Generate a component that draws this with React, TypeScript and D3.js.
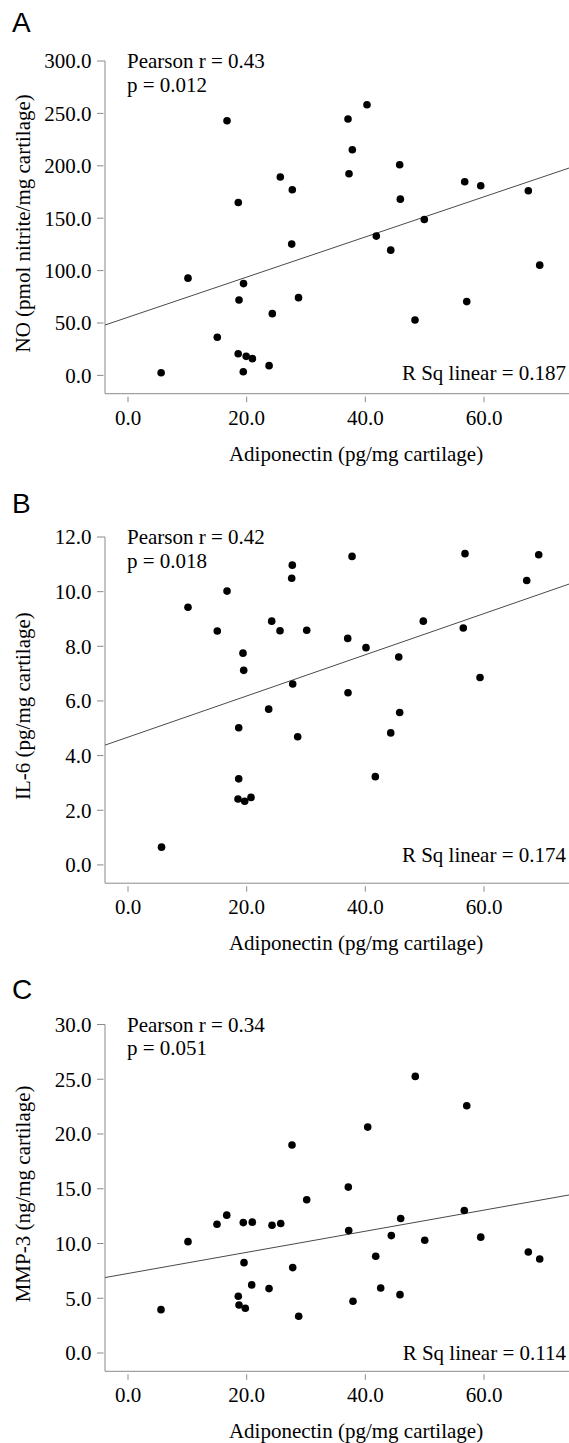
import React from "react";
import * as d3 from "d3";

// Adiponectin (pg/mg cartilage) per sample, one array per assay
const adipoA = [5.58, 10.11, 15.05, 16.69, 18.57, 18.71, 19.47, 19.43, 19.92, 20.97, 18.59, 23.78, 24.32, 25.67, 27.69, 27.59, 28.74, 37.08, 37.25, 37.81, 40.28, 41.85, 44.28, 45.79, 45.9, 48.37, 49.94, 56.75, 57.09, 59.45, 67.47, 69.39];
const noValues = [2.6, 92.8, 36.4, 243.0, 20.7, 72.0, 87.6, 3.5, 18.2, 16.0, 165.0, 9.3, 58.9, 189.3, 177.1, 125.3, 74.2, 244.7, 192.4, 215.3, 258.3, 132.9, 119.5, 201.0, 168.2, 52.9, 148.8, 184.8, 70.4, 181.0, 176.2, 105.2];

const adipoB = [5.65, 10.11, 15.05, 16.69, 18.66, 18.66, 18.54, 19.38, 19.5, 19.67, 20.73, 23.71, 24.22, 25.62, 27.59, 27.69, 27.76, 28.6, 30.12, 37.03, 37.08, 37.76, 40.11, 41.68, 44.28, 45.63, 45.79, 49.77, 56.51, 56.8, 59.33, 67.2, 69.22];
const il6Values = [0.65, 9.43, 8.56, 10.02, 5.02, 3.15, 2.41, 7.75, 7.12, 2.33, 2.47, 5.7, 8.92, 8.57, 10.49, 10.97, 6.62, 4.69, 8.59, 8.29, 6.3, 11.29, 7.95, 3.23, 4.83, 7.61, 5.58, 8.92, 8.67, 11.39, 6.86, 10.41, 11.35];

const adipoC = [5.56, 10.11, 15.0, 16.64, 18.59, 18.71, 19.43, 19.55, 19.77, 20.85, 20.95, 23.77, 24.27, 25.74, 27.64, 27.76, 28.77, 30.12, 37.13, 37.2, 37.92, 40.4, 41.75, 42.59, 44.38, 45.84, 45.96, 48.42, 50.01, 56.68, 57.09, 59.45, 67.47, 69.39];
const mmp3Values = [3.96, 10.17, 11.76, 12.59, 5.18, 4.39, 11.91, 8.25, 4.09, 6.22, 11.95, 5.88, 11.67, 11.82, 18.99, 7.8, 3.35, 13.99, 15.15, 11.18, 4.73, 20.63, 8.84, 5.94, 10.72, 5.33, 12.28, 25.26, 10.3, 13.01, 22.58, 10.58, 9.23, 8.59];

const xTicks = [0, 20, 40, 60];
const noTicks = [0, 50, 100, 150, 200, 250, 300];
const il6Ticks = [0, 2, 4, 6, 8, 10, 12];
const mmp3Ticks = [0, 5, 10, 15, 20, 25, 30];

const panelLetters = ["A", "B", "C"];
const yTitles = ["NO (pmol nitrite/mg cartilage)", "IL-6 (pg/mg cartilage)", "MMP-3 (ng/mg cartilage)"];
const xTitle = "Adiponectin (pg/mg cartilage)";
const pearsonR = ["0.43", "0.42", "0.34"];
const pValues = ["0.012", "0.018", "0.051"];
const rSquared = ["0.187", "0.174", "0.114"];

const W = 569;
const H = 1443;
const SERIF = "'Liberation Serif', 'Times New Roman', serif";
const SANS = "'Liberation Sans', Arial, sans-serif";
const AXIS = "#8a8a8a";

// vertical placement of each panel: pixel of top tick, of zero, of letter and R² baselines
const layout = [
  { top: 61, zero: 375.4, letterY: 32, rsqY: 380 },
  { top: 537, zero: 864.9, letterY: 513, rsqY: 862 },
  { top: 1024.5, zero: 1353, letterY: 999, rsqY: 1360 },
];

const panels = [
  { xs: adipoA, ys: noValues, ticks: noTicks },
  { xs: adipoB, ys: il6Values, ticks: il6Ticks },
  { xs: adipoC, ys: mmp3Values, ticks: mmp3Ticks },
];

function linearFit(xs: number[], ys: number[]) {
  const mx = d3.mean(xs)!;
  const my = d3.mean(ys)!;
  let sxy = 0;
  let sxx = 0;
  xs.forEach((x, i) => {
    sxy += (x - mx) * (ys[i] - my);
    sxx += (x - mx) * (x - mx);
  });
  const slope = sxy / sxx;
  return { slope, intercept: my - slope * mx };
}

const AXIS_X = 105;
const xScale = d3.scaleLinear().domain([0, 60]).range([128, 484]);

function Panel({ idx }: { idx: number }) {
  const p = panels[idx];
  const L = layout[idx];
  const yMax = p.ticks[p.ticks.length - 1];
  const y = d3.scaleLinear().domain([0, yMax]).range([L.zero, L.top]);
  const axisY = L.zero + 18.3;
  const fit = linearFit(p.xs, p.ys);
  const x0 = xScale.invert(AXIS_X);
  const x1 = xScale.invert(W);
  const line = d3.line<number>()
    .x((d) => xScale(d))
    .y((d) => y(fit.intercept + fit.slope * d));
  const titleCenter = (L.top + axisY) / 2 - 4;
  const fmt = d3.format(".1f");

  return (
    <g>
      <text x={12} y={L.letterY} fontFamily={SANS} fontSize={28} fill="#000">
        {panelLetters[idx]}
      </text>

      {/* axes */}
      <line x1={AXIS_X} x2={AXIS_X} y1={L.top} y2={axisY} stroke={AXIS} strokeWidth={1} />
      <line x1={AXIS_X} x2={W} y1={axisY} y2={axisY} stroke={AXIS} strokeWidth={1} />

      {p.ticks.map((t) => (
        <g key={"y" + t}>
          <line x1={97} x2={t === yMax ? AXIS_X : 103.5} y1={y(t)} y2={y(t)} stroke={AXIS} strokeWidth={1} />
          <text x={91.5} y={y(t)} dy="0.35em" textAnchor="end" fontFamily={SERIF} fontSize={21} fill="#000">
            {fmt(t)}
          </text>
        </g>
      ))}

      {xTicks.map((t) => (
        <g key={"x" + t}>
          <line x1={xScale(t)} x2={xScale(t)} y1={axisY + 3} y2={axisY + 8.5} stroke={AXIS} strokeWidth={1} />
          <text x={xScale(t)} y={axisY + 31} textAnchor="middle" fontFamily={SERIF} fontSize={21} fill="#000">
            {fmt(t)}
          </text>
        </g>
      ))}

      <text x={356} y={axisY + 67} textAnchor="middle" fontFamily={SERIF} fontSize={21} fill="#000">
        {xTitle}
      </text>
      <text
        transform={`translate(30,${titleCenter}) rotate(-90)`}
        textAnchor="middle"
        fontFamily={SERIF}
        fontSize={21}
        fill="#000"
      >
        {yTitles[idx]}
      </text>

      {/* fit line */}
      <path d={line([x0, x1]) || ""} stroke="#4a4a4a" strokeWidth={1} fill="none" />

      {p.xs.map((xv, i) => (
        <circle key={i} cx={xScale(xv)} cy={y(p.ys[i])} r={3.8} fill="#000" />
      ))}

      <text x={127} y={L.top + 7.3} fontFamily={SERIF} fontSize={21} fill="#000">
        {`Pearson r = ${pearsonR[idx]}`}
      </text>
      <text x={127} y={L.top + 30.7} fontFamily={SERIF} fontSize={21} fill="#000">
        {`p = ${pValues[idx]}`}
      </text>
      <text x={566} y={L.rsqY} textAnchor="end" fontFamily={SERIF} fontSize={21} fill="#000">
        {`R Sq linear = ${rSquared[idx]}`}
      </text>
    </g>
  );
}

export default function App() {
  return (
    <svg
      width={W}
      height={H}
      viewBox={`0 0 ${W} ${H}`}
      style={{ position: "absolute", left: 0, top: 0, background: "#fff" }}
    >
      <rect width={W} height={H} fill="#fff" />
      {[0, 1, 2].map((i) => (
        <Panel key={i} idx={i} />
      ))}
    </svg>
  );
}
